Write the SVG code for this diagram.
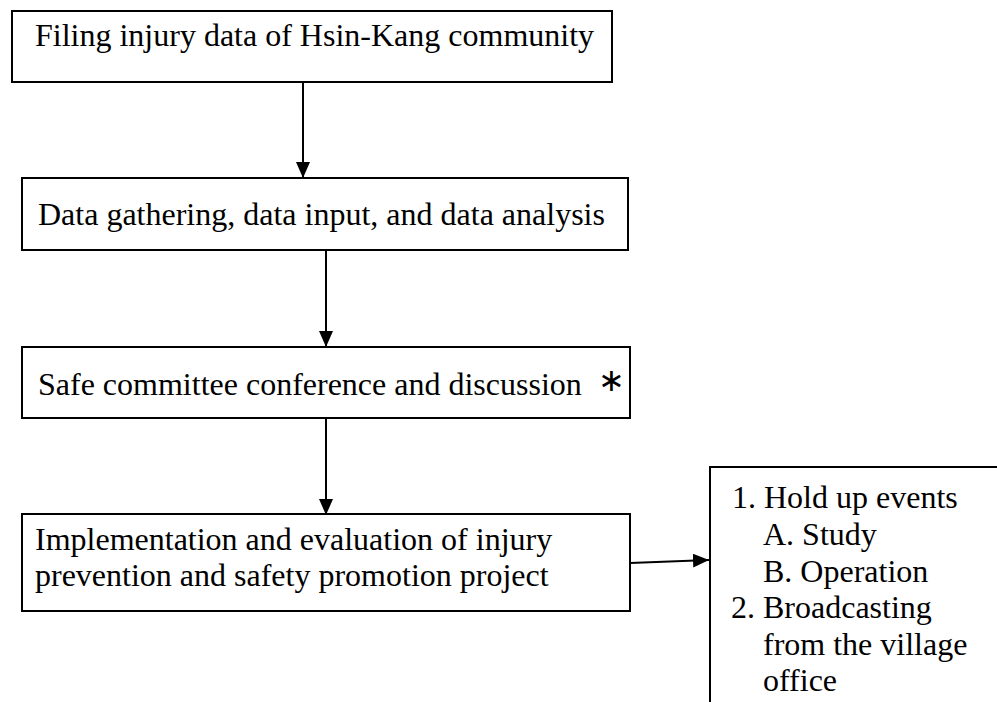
<svg xmlns="http://www.w3.org/2000/svg" width="997" height="702" viewBox="0 0 997 702">
<defs>
<marker id="arr" viewBox="0 0 16 14" refX="16" refY="7" markerWidth="16" markerHeight="14" markerUnits="userSpaceOnUse" orient="auto">
<path d="M0,0 L16,7 L0,14 Z" fill="#000"/>
</marker>
<style>
.box{fill:#fff;stroke:#000;stroke-width:2}
.t{font-family:"Liberation Serif","Times New Roman",serif;font-size:32px;fill:#000}
.c{stroke:#000;stroke-width:2;fill:none}
</style>
</defs>
<rect width="997" height="702" fill="#fff"/>
<g id="connectors">
<line class="c" x1="303" y1="82" x2="303" y2="178" marker-end="url(#arr)"/>
<line class="c" x1="326" y1="251" x2="326" y2="347" marker-end="url(#arr)"/>
<line class="c" x1="326" y1="419" x2="326" y2="515" marker-end="url(#arr)"/>
<line class="c" x1="630" y1="563" x2="709" y2="560" marker-end="url(#arr)"/>
</g>
<g id="node1">
<rect class="box" x="12" y="11" width="600" height="71"/>
<text class="t" x="35" y="46">Filing injury data of Hsin-Kang community</text>
</g>
<g id="node2">
<rect class="box" x="22" y="178" width="606" height="72"/>
<text class="t" x="38" y="225">Data gathering, data input, and data analysis</text>
</g>
<g id="node3">
<rect class="box" x="22" y="347" width="608" height="71"/>
<text class="t" x="38" y="395">Safe committee conference and discussion</text>
<text class="t" x="611" y="391" text-anchor="middle" font-size="34">∗</text>
</g>
<g id="node4">
<rect class="box" x="22" y="514" width="608" height="97"/>
<text class="t" x="35" y="550">Implementation and evaluation of injury</text>
<text class="t" x="35" y="586">prevention and safety promotion project</text>
</g>
<g id="node5">
<path class="c" d="M710,702 L710,467 L997,467"/>
<text class="t" x="732" y="508">1. Hold up events</text>
<text class="t" x="763" y="545">A. Study</text>
<text class="t" x="763" y="582">B. Operation</text>
<text class="t" x="731" y="618">2. Broadcasting</text>
<text class="t" x="763" y="655">from the village</text>
<text class="t" x="763" y="691">office</text>
</g>
</svg>
